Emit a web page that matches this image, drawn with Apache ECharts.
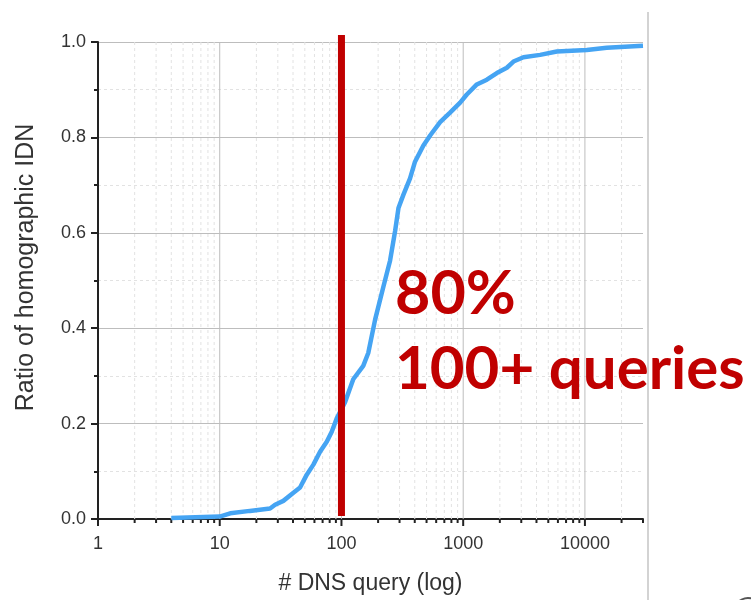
<!DOCTYPE html>
<html>
<head>
<meta charset="utf-8">
<style>
  html, body { margin: 0; padding: 0; background: #ffffff; overflow: hidden; }
  #chart { width: 751px; height: 600px; }
</style>
<script src="https://cdn.jsdelivr.net/npm/echarts@6/dist/echarts.min.js"></script>
</head>
<body>
<div id="chart"></div>
<script>
// ---- data ----
const queryCounts = [4, 10, 12.2, 17.7, 25.9, 28.5, 33.3, 40.3, 45.7, 51.9, 58.8, 66.7, 75.7, 83.2, 91.5, 100.5, 107, 125, 151, 166, 189, 221, 251, 276, 294, 323, 366, 402, 471, 535, 646, 780, 944, 1071, 1294, 1564, 1890, 2283, 2589, 3126, 4285, 5875, 10350, 15100, 30000];
const ratios = [0.002, 0.005, 0.012, 0.017, 0.022, 0.030, 0.038, 0.055, 0.066, 0.093, 0.114, 0.141, 0.162, 0.183, 0.211, 0.231, 0.245, 0.293, 0.321, 0.348, 0.418, 0.487, 0.542, 0.604, 0.652, 0.680, 0.714, 0.749, 0.783, 0.804, 0.832, 0.852, 0.873, 0.890, 0.911, 0.921, 0.935, 0.946, 0.959, 0.968, 0.973, 0.980, 0.983, 0.988, 0.992];
const xTickLabels = [1, 10, 100, 1000, 10000];
const yTickLabels = [0.0, 0.2, 0.4, 0.6, 0.8, 1.0];
const thresholdX = [100];
const annotationLines = ['80%', '100+ queries'];
const xAxisMax = 30000;

// minor log ticks (2..9 within each decade)
const xMinorTicks = [];
xTickLabels.forEach(function (d) {
  for (let k = 2; k <= 9; k++) {
    if (d * k <= xAxisMax) xMinorTicks.push(d * k);
  }
});
const tickData = xTickLabels.map(function (v) { return [v, 1]; })
  .concat(xMinorTicks.map(function (v) { return [v, 0]; }));

const chart = echarts.init(document.getElementById('chart'), null, { renderer: 'canvas', width: 751, height: 600 });
const axisFont = "'Liberation Sans', Arial, sans-serif";

const option = {
  backgroundColor: '#ffffff',
  animation: false,
  grid: { left: 98, right: 108, top: 42, bottom: 75, containLabel: false },
  xAxis: {
    type: 'log', logBase: 10, min: 1, max: xAxisMax,
    name: '# DNS query (log)', nameLocation: 'middle', nameGap: 53,
    nameTextStyle: { fontSize: 23, color: '#333', fontFamily: axisFont },
    axisLine: { show: true, lineStyle: { color: '#222', width: 2 } },
    axisTick: { show: false }, splitLine: { show: false }, minorTick: { show: false },
    axisLabel: {
      margin: 16, fontSize: 18, color: '#333', fontFamily: axisFont,
      formatter: function (v) { const r = Math.round(v); return xTickLabels.indexOf(r) >= 0 ? String(r) : ''; }
    }
  },
  yAxis: {
    type: 'value', min: 0, max: 1, interval: 0.2,
    name: 'Ratio of homographic IDN', nameLocation: 'middle', nameGap: 59,
    nameTextStyle: { fontSize: 25, color: '#333', fontFamily: axisFont, padding: [0, 0, 0, 26] },
    axisLine: { show: true, lineStyle: { color: '#222', width: 2 } },
    axisTick: { show: true, inside: false, length: 7, lineStyle: { color: '#222', width: 2 } },
    minorTick: { show: true, splitNumber: 2, length: 4, lineStyle: { color: '#222', width: 2 } },
    splitLine: { show: true, lineStyle: { color: '#bdbdbd', width: 1 } },
    minorSplitLine: { show: true, lineStyle: { color: '#e2e2e2', width: 1, type: [3, 3] } },
    axisLabel: { margin: 12, fontSize: 18, color: '#333', fontFamily: axisFont, formatter: function (v) { return v.toFixed(1); } }
  },
  series: [
    {
      // vertical grid lines and ticks of the log axis
      type: 'custom', z: 1, silent: true, clip: false, data: tickData, encode: { x: 0, y: 1 },
      renderItem: function (params, api) {
        const xv = api.value(0);
        const major = api.value(1) === 1;
        const p0 = api.coord([xv, 0]);
        const p1 = api.coord([xv, 1]);
        const children = [];
        if (xv > 1 && xv < xAxisMax) {
          children.push({
            type: 'line', shape: { x1: p0[0], y1: p0[1], x2: p1[0], y2: p1[1] },
            style: major ? { stroke: '#bdbdbd', lineWidth: 1 } : { stroke: '#e2e2e2', lineWidth: 1, lineDash: [3, 3] }
          });
        }
        children.push({
          type: 'line', shape: { x1: p0[0], y1: p0[1], x2: p0[0], y2: p0[1] + (major ? 7 : 4) },
          style: { stroke: '#222', lineWidth: 2 }
        });
        return { type: 'group', children: children };
      }
    },
    {
      type: 'line', z: 3,
      data: queryCounts.map(function (q, i) { return [q, ratios[i]]; }),
      showSymbol: false, symbol: 'none',
      lineStyle: { color: '#45a4f3', width: 4.5 }, itemStyle: { color: '#45a4f3' }
    },
    {
      // red threshold line at 100 queries
      type: 'custom', z: 4, silent: true, clip: false,
      data: thresholdX.map(function (v) { return [v, 0]; }), encode: { x: 0, y: 1 },
      renderItem: function (params, api) {
        const xv = api.value(0);
        const pb = api.coord([xv, 0]);
        const pt = api.coord([xv, 1]);
        return { type: 'line', shape: { x1: pb[0], y1: pb[1] - 3, x2: pt[0], y2: pt[1] - 7 }, style: { stroke: '#c00000', lineWidth: 7 } };
      }
    }
  ],
  graphic: [
    { type: 'line', shape: { x1: 648, y1: 12, x2: 648, y2: 600 }, style: { stroke: '#c4c4c4', lineWidth: 1.5 }, z: 10 },
    { type: 'arc', shape: { cx: 748, cy: 612, r: 14, startAngle: Math.PI * 1.1, endAngle: Math.PI * 1.6 }, style: { stroke: '#555', lineWidth: 2, fill: null }, z: 10 },
    { type: 'text', x: 395, y: 294, style: { text: annotationLines[0], font: "bold 61px Lato, 'Open Sans', sans-serif", fill: '#c00000', verticalAlign: 'middle', align: 'left' }, z: 20 },
    { type: 'text', x: 395, y: 370, style: { text: annotationLines[1], font: "bold 60px Lato, 'Open Sans', sans-serif", fill: '#c00000', verticalAlign: 'middle', align: 'left' }, z: 20 }
  ]
};
chart.setOption(option);
</script>
</body>
</html>
